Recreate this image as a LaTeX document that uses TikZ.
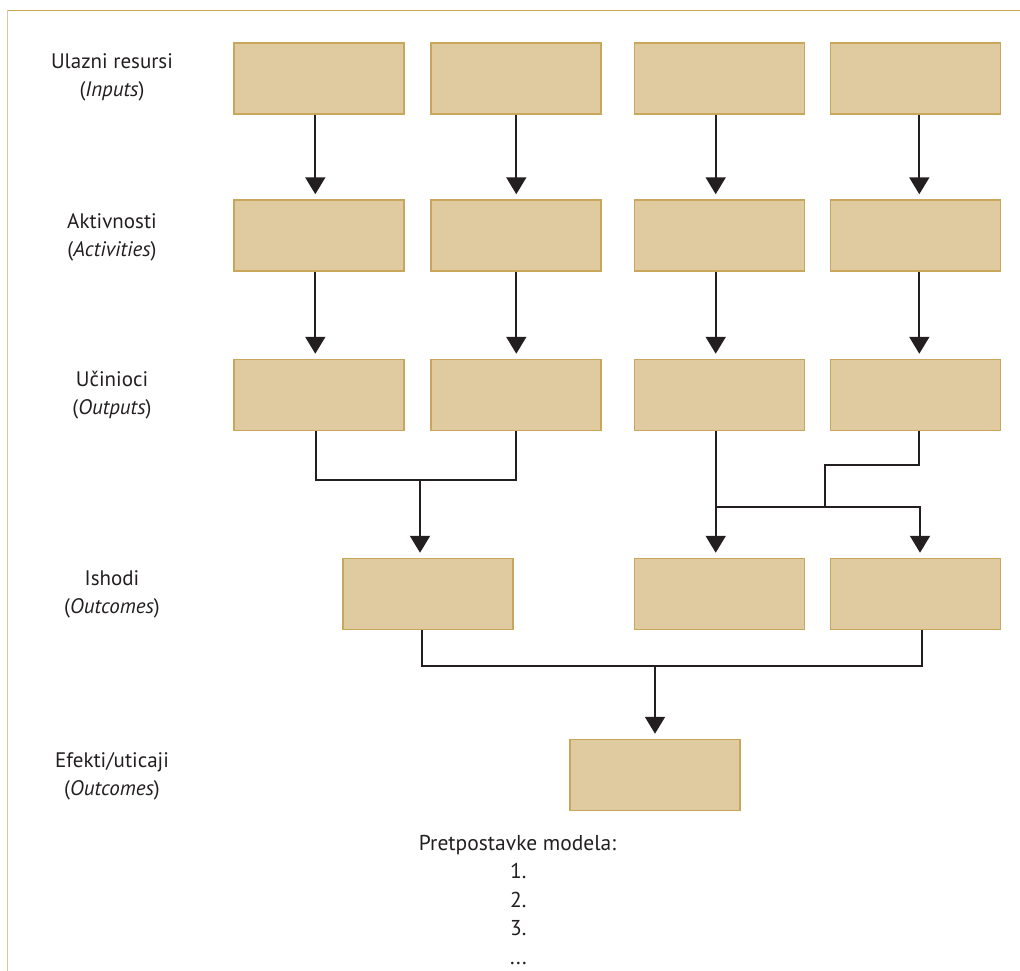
\documentclass[tikz,border=0pt]{standalone}
\usepackage{fontspec}
\setmainfont{PT Sans}
\usetikzlibrary{arrows.meta}
\definecolor{boxfill}{HTML}{E0CBA0}
\definecolor{boxline}{HTML}{C9A75A}
\definecolor{frametop}{HTML}{C9A84C}
\definecolor{frameleft}{HTML}{D8C8A2}
\definecolor{ink}{HTML}{231F20}
\begin{document}
\begin{tikzpicture}[x=1pt,y=-1pt,
  box/.style={draw=boxline,fill=boxfill,line width=1.5pt,minimum width=170pt,minimum height=71pt,inner sep=0pt},
  lbl/.style={align=center,text=ink,font=\fontsize{21}{28}\selectfont},
  txt/.style={text=ink,font=\fontsize{21.5}{28}\selectfont,inner sep=0pt},
  conn/.style={draw=ink,line width=2pt},
  arr/.style={conn,-{Triangle[width=20pt,length=17pt]},shorten >=5pt}]
\useasboundingbox (0,0) rectangle (1020,971);
\draw[frametop,line width=1.2pt] (7.3,10.3) -- (1020,10.3);
\draw[frameleft,line width=1.2pt] (7.3,10.3) -- (7.3,971);
% row 1
\node[box] (a1) at (319,78.5) {};
\node[box] (a2) at (516,78.5) {};
\node[box] (a3) at (719.7,78.5) {};
\node[box] (a4) at (915.5,78.5) {};
% row 2
\node[box] (b1) at (319,235.5) {};
\node[box] (b2) at (516,235.5) {};
\node[box] (b3) at (719.7,235.5) {};
\node[box] (b4) at (915.5,235.5) {};
% row 3
\node[box] (c1) at (319,395) {};
\node[box] (c2) at (516,395) {};
\node[box] (c3) at (719.7,395) {};
\node[box] (c4) at (915.5,395) {};
% row 4
\node[box] (d1) at (428,594) {};
\node[box] (d2) at (719.7,594) {};
\node[box] (d3) at (915.5,594) {};
% row 5
\node[box] (e1) at (655,775) {};
% labels
\node[lbl] (l1) at (112,77) {Ulazni resursi\\(\textit{Inputs})};
\node[lbl] (l2) at (112,237) {Aktivnosti\\(\textit{Activities})};
\node[lbl] (l3) at (112,395) {Učinioci\\(\textit{Outputs})};
\node[lbl] (l4) at (112,594) {Ishodi\\(\textit{Outcomes})};
\node[lbl] (l5) at (112,776) {Efekti/uticaji\\(\textit{Outcomes})};
\node[txt,anchor=base] (p0) at (517.5,850) {Pretpostavke modela:};
\node[txt,anchor=base west] (p1) at (510,878.5) {1.};
\node[txt,anchor=base west] (p2) at (510,907) {2.};
\node[txt,anchor=base west] (p3) at (510,935.5) {3.};
\node[txt,anchor=base west] (p4) at (510,964) {...};
% arrows row1->row2, row2->row3
\foreach \r/\s in {a/b,b/c}{
  \draw[arr] ([xshift=-3.7pt]\r1.south) -- ([xshift=-3.7pt]\s1.north);
  \draw[arr] ([xshift=0.3pt]\r2.south) -- ([xshift=0.3pt]\s2.north);
  \draw[arr] ([xshift=-4pt]\r3.south) -- ([xshift=-4pt]\s3.north);
  \draw[arr] ([xshift=3.8pt]\r4.south) -- ([xshift=3.8pt]\s4.north);
}
% row3 -> row4
\coordinate (j1) at (420,480);
\draw[conn] ([xshift=-3pt]c1.south) |- (j1) -| ([xshift=-0.3pt]c2.south);
\draw[arr] (j1) -- (j1 |- d1.north);
\draw[arr] ([xshift=-4pt]c3.south) -- ([xshift=-4pt]d2.north);
\coordinate (k1) at (825,465);
\coordinate (k2) at (825,507);
\coordinate (k3) at (716,507);
\draw[conn] ([xshift=3.5pt]c4.south) |- (k1) -- (k2);
\draw[arr] (k3) -| ([xshift=4.5pt]d3.north);
% row4 -> row5
\coordinate (h) at (655,666);
\draw[conn] ([xshift=-6pt]d1.south) |- (h) -| ([xshift=6pt]d3.south);
\draw[arr] (h) -- (e1.north);
\end{tikzpicture}
\end{document}
